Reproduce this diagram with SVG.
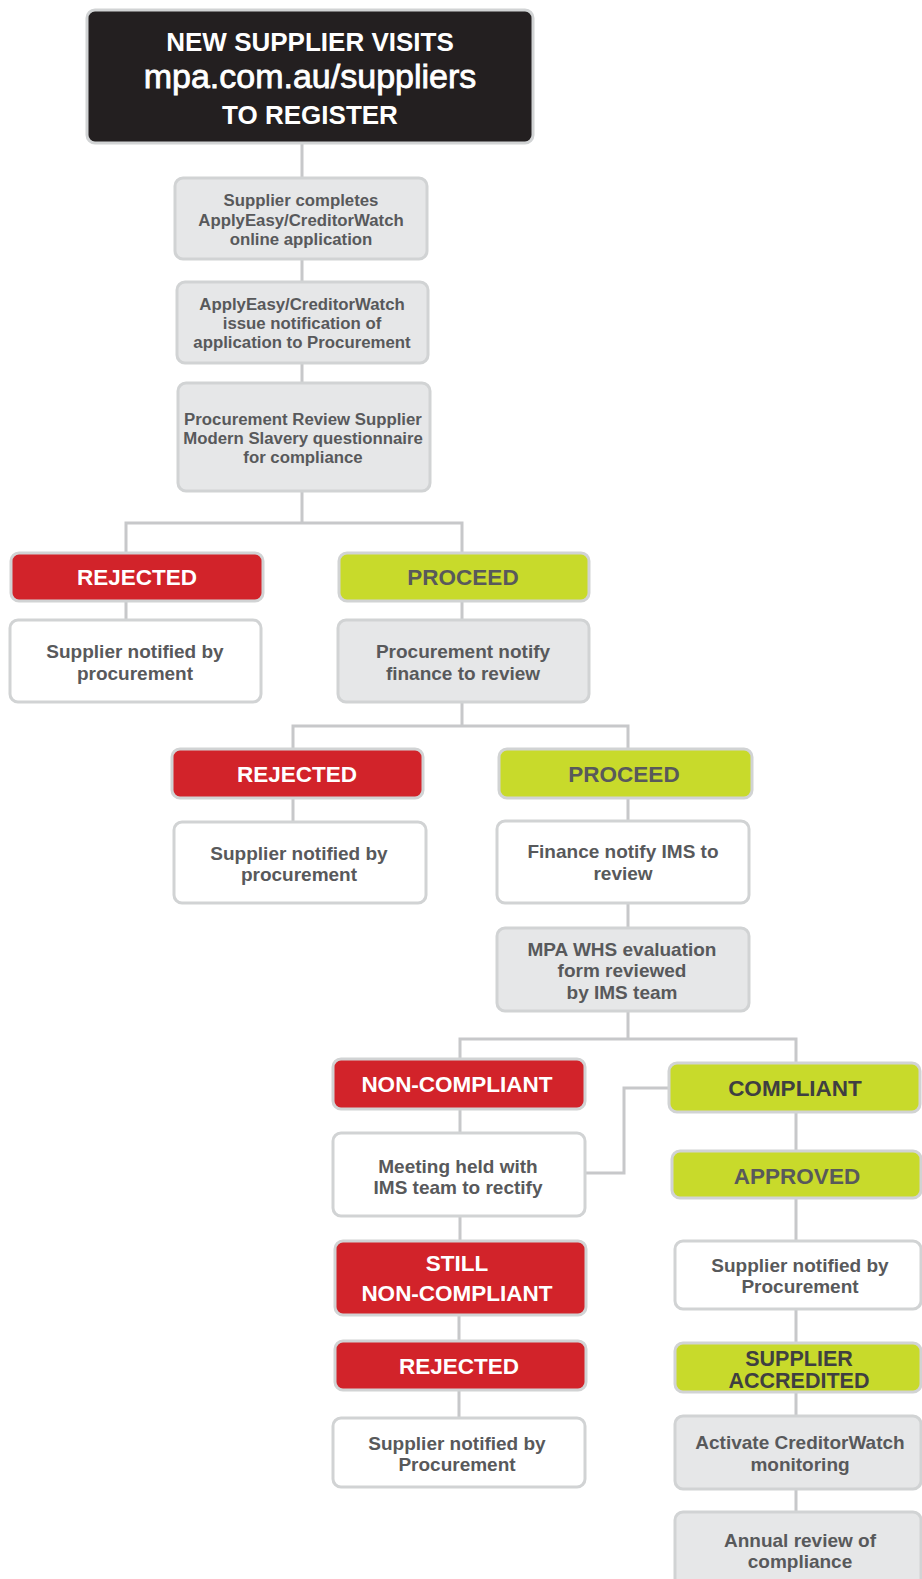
<svg xmlns="http://www.w3.org/2000/svg" width="922" height="1579" viewBox="0 0 922 1579">
<style>
rect{stroke:#d1d3d4;stroke-width:3}
.k{fill:#231f20}
.g{fill:#e6e7e8}
.wh{fill:#ffffff}
.r{fill:#d2232a}
.y{fill:#c8da2b}
text{font-family:"Liberation Sans",Arial,sans-serif;font-weight:bold;text-anchor:middle;fill:#58595b}
.s{font-size:16.8px}
.m{font-size:19px}
.h{font-size:22.5px}
.wt{fill:#ffffff}
.dk{fill:#3f3f41}
#conn path{fill:none;stroke:#c7c8ca;stroke-width:3}
</style>
<g id="conn">
<path d="M302 143V178M302 259V282M302 363V383M302 491V523"/>
<path d="M126 553V523H462V553"/>
<path d="M126 601V620M462 601V620M462 702V726"/>
<path d="M293 749V726H628V749"/>
<path d="M293 798V822M628 798V821M628 903V928M628 1011V1039"/>
<path d="M460 1059V1039H796V1063"/>
<path d="M460 1109V1133"/>
<path d="M585 1173H624V1088H669"/>
<path d="M796 1112V1151M460 1216V1241M796 1198V1241"/>
<path d="M459 1315V1341M796 1309V1343M459 1390V1418M796 1392V1416M796 1489V1512"/>
</g>
<g id="n-start">
<rect class="k" x="87" y="10" width="446" height="133" rx="8"/>
<text class="wt" x="310" y="51" style="font-size:26px">NEW SUPPLIER VISITS</text>
<text class="wt" x="310" y="87.5" style="font-size:34px;font-weight:normal;stroke:#ffffff;stroke-width:0.8">mpa.com.au/suppliers</text>
<text class="wt" x="310" y="124" style="font-size:26px">TO REGISTER</text>
</g>
<g id="n-apply">
<rect class="g" x="175" y="178" width="252" height="81" rx="8"/>
<text class="s" x="301" y="206">Supplier completes</text>
<text class="s" x="301" y="225.5">ApplyEasy/CreditorWatch</text>
<text class="s" x="301" y="244.5">online application</text>
</g>
<g id="n-notify">
<rect class="g" x="177" y="282" width="251" height="81" rx="8"/>
<text class="s" x="302" y="310">ApplyEasy/CreditorWatch</text>
<text class="s" x="302" y="329">issue notification of</text>
<text class="s" x="302" y="348">application to Procurement</text>
</g>
<g id="n-review">
<rect class="g" x="178" y="383" width="252" height="108" rx="8"/>
<text class="s" x="303" y="425">Procurement Review Supplier</text>
<text class="s" x="303" y="444">Modern Slavery questionnaire</text>
<text class="s" x="303" y="463">for compliance</text>
</g>
<g id="n-rej1">
<rect class="r" x="11" y="553" width="252" height="48" rx="8"/>
<text class="h wt" x="137" y="585">REJECTED</text>
</g>
<g id="n-pro1">
<rect class="y" x="339" y="553" width="250" height="48" rx="8"/>
<text class="h" x="463" y="585">PROCEED</text>
</g>
<g id="n-sn1">
<rect class="wh" x="10" y="620" width="251" height="82" rx="8"/>
<text class="m" x="135" y="658">Supplier notified by</text>
<text class="m" x="135" y="680">procurement</text>
</g>
<g id="n-fin">
<rect class="g" x="338" y="620" width="251" height="82" rx="8"/>
<text class="m" x="463" y="658">Procurement notify</text>
<text class="m" x="463" y="680">finance to review</text>
</g>
<g id="n-rej2">
<rect class="r" x="172" y="749" width="251" height="49" rx="8"/>
<text class="h wt" x="297" y="782">REJECTED</text>
</g>
<g id="n-pro2">
<rect class="y" x="499" y="749" width="253" height="49" rx="8"/>
<text class="h" x="624" y="782">PROCEED</text>
</g>
<g id="n-sn2">
<rect class="wh" x="174" y="822" width="252" height="81" rx="8"/>
<text class="m" x="299" y="860">Supplier notified by</text>
<text class="m" x="299" y="881">procurement</text>
</g>
<g id="n-ims">
<rect class="wh" x="497" y="821" width="252" height="82" rx="8"/>
<text class="m" x="623" y="858">Finance notify IMS to</text>
<text class="m" x="623" y="880">review</text>
</g>
<g id="n-whs">
<rect class="g" x="497" y="928" width="252" height="83" rx="8"/>
<text class="m" x="622" y="956">MPA WHS evaluation</text>
<text class="m" x="622" y="977">form reviewed</text>
<text class="m" x="622" y="999">by IMS team</text>
</g>
<g id="n-noncomp">
<rect class="r" x="333" y="1059" width="252" height="50" rx="8"/>
<text class="h wt" x="457" y="1092">NON-COMPLIANT</text>
</g>
<g id="n-comp">
<rect class="y" x="669" y="1063" width="251" height="49" rx="8"/>
<text class="h dk" x="795" y="1096">COMPLIANT</text>
</g>
<g id="n-meet">
<rect class="wh" x="333" y="1133" width="252" height="83" rx="8"/>
<text class="m" x="458" y="1173">Meeting held with</text>
<text class="m" x="458" y="1194">IMS team to rectify</text>
</g>
<g id="n-appr">
<rect class="y" x="672" y="1151" width="249" height="47" rx="8"/>
<text class="h" x="797" y="1184">APPROVED</text>
</g>
<g id="n-still">
<rect class="r" x="335" y="1241" width="251" height="74" rx="8"/>
<text class="h wt" x="457" y="1271">STILL</text>
<text class="h wt" x="457" y="1301">NON-COMPLIANT</text>
</g>
<g id="n-sn3">
<rect class="wh" x="675" y="1241" width="246" height="68" rx="8"/>
<text class="m" x="800" y="1272">Supplier notified by</text>
<text class="m" x="800" y="1293">Procurement</text>
</g>
<g id="n-rej3">
<rect class="r" x="335" y="1341" width="251" height="49" rx="8"/>
<text class="h wt" x="459" y="1374">REJECTED</text>
</g>
<g id="n-accr">
<rect class="y" x="675" y="1343" width="246" height="49" rx="8"/>
<text class="dk" x="799" y="1366" style="font-size:21.5px">SUPPLIER</text>
<text class="dk" x="799" y="1388" style="font-size:21.5px">ACCREDITED</text>
</g>
<g id="n-sn4">
<rect class="wh" x="333" y="1418" width="252" height="69" rx="8"/>
<text class="m" x="457" y="1450">Supplier notified by</text>
<text class="m" x="457" y="1471">Procurement</text>
</g>
<g id="n-cw">
<rect class="g" x="675" y="1416" width="246" height="73" rx="8"/>
<text class="m" x="800" y="1449">Activate CreditorWatch</text>
<text class="m" x="800" y="1471">monitoring</text>
</g>
<g id="n-annual">
<rect class="g" x="675" y="1512" width="246" height="80" rx="8"/>
<text class="m" x="800" y="1547">Annual review of</text>
<text class="m" x="800" y="1568">compliance</text>
</g>
</svg>
